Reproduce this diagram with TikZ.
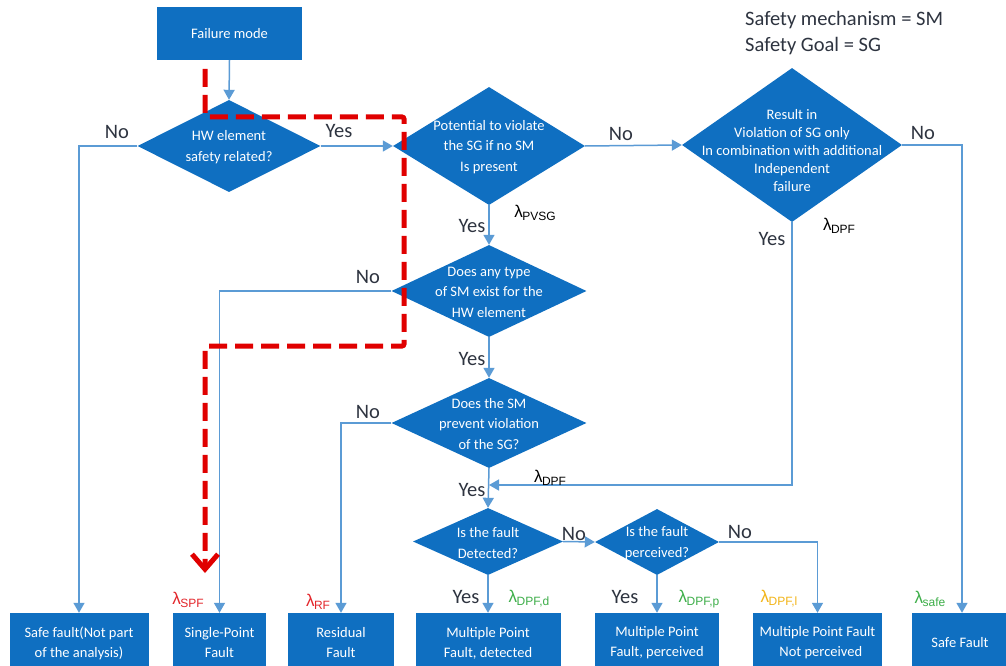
\documentclass[tikz,border=0pt]{standalone}
\usepackage{fontspec}
\setmainfont{Carlito}
\newfontfamily\lamfont{Liberation Sans}
\usetikzlibrary{shapes.geometric,arrows.meta,calc}
\definecolor{boxblue}{HTML}{0F6FC1}
\definecolor{lineblue}{HTML}{5B9BD5}
\definecolor{lred}{HTML}{E3262B}
\definecolor{lgreen}{HTML}{3DAE49}
\definecolor{lorange}{HTML}{F2B417}
\definecolor{dashred}{HTML}{E00000}
\definecolor{lbl}{HTML}{2E3440}
\newcommand{\lamlab}[1]{{\lamfont\fontsize{17}{17}\selectfont λ\kern-0.5pt\raisebox{-0.35ex}{\fontsize{12}{12}\selectfont #1}}}
\begin{document}
\begin{tikzpicture}[x=1pt,y=-1pt,
  box/.style={rectangle, fill=boxblue, text=white, align=center, inner sep=0pt,
    font=\fontsize{14.5}{20}\selectfont},
  diam/.style={diamond, fill=boxblue, inner sep=0pt},
  dtext/.style={text=white, align=center, inner sep=0pt, font=\fontsize{14.5}{20.5}\selectfont},
  conn/.style={draw=lineblue, line width=1.5pt},
  arr/.style={conn, -{Triangle[width=11pt,length=10pt]}},
  lab/.style={text=lbl, inner sep=0pt, font=\fontsize{20.5}{20.5}\selectfont},
  lam/.style={inner sep=0pt},
  reddash/.style={draw=dashred, line width=5pt, dash pattern=on 18pt off 8pt, rounded corners=2pt,
    -{Straight Barb[length=15pt,width=26pt,line width=5pt]}}
]
\useasboundingbox (0,0) rectangle (1006,666);
\fill[white] (0,0) rectangle (1006,666);

% start box
\node[box, minimum width=145pt, minimum height=53pt] (fm) at (229.5,33.5) {Failure mode};

% diamonds
\node[diam, minimum width=183pt, minimum height=92pt] (d1) at (229,146) {};
\node[dtext] at (229,147) {HW element\\safety related?};

\node[diam, minimum width=192pt, minimum height=118pt] (d2) at (489,146) {};
\node[dtext] at (489,147) {Potential to violate\\the SG if no SM\\Is present};

\node[diam, minimum width=220pt, minimum height=154pt] (d3) at (792,145) {};
\node[dtext, font=\fontsize{14.5}{18}\selectfont] at (792,151) {Result in\\Violation of SG only\\In combination with additional\\Independent\\failure};

\node[diam, minimum width=195pt, minimum height=92pt] (d4) at (489,291) {};
\node[dtext] at (489,292) {Does any type\\of SM exist for the\\HW element};

\node[diam, minimum width=195pt, minimum height=90pt] (d5) at (489,423) {};
\node[dtext] at (489,424) {Does the SM\\prevent violation\\of the SG?};

\node[diam, minimum width=150pt, minimum height=67pt] (d6) at (488,541.5) {};
\node[dtext] at (488,543) {Is the fault\\Detected?};

\node[diam, minimum width=124pt, minimum height=66pt] (d7) at (657,542) {};
\node[dtext] at (657,543) {Is the fault\\perceived?};

% bottom boxes
\node[box, minimum width=139pt, minimum height=60pt] (b1) at (79,643) {Safe fault(Not part\\of the analysis)};
\node[box, minimum width=93pt, minimum height=60pt] (b2) at (219.5,643) {Single-Point\\Fault};
\node[box, minimum width=106pt, minimum height=60pt] (b3) at (341,643) {Residual\\Fault};
\node[box, minimum width=145pt, minimum height=60pt] (b4) at (488,643) {Multiple Point\\Fault, detected};
\node[box, minimum width=124pt, minimum height=60pt] (b5) at (657,643) {Multiple Point\\Fault, perceived};
\node[box, minimum width=129pt, minimum height=60pt] (b6) at (817.5,643) {Multiple Point Fault\\\ \ Not perceived};
\node[box, minimum width=100pt, minimum height=60pt] (b7) at (962,643) {\kern-4pt Safe Fault};

% connectors
\draw[arr] (fm.south) -- (d1.north);
\draw[arr] (d1.west) -| (b1.north);
\draw[arr] (d1.east) -- (d2.west);
\draw[arr] (d2.east) -- (d3.west);
\draw[arr] (d3.east) -| (b7.north);
\draw[arr] (d2.south) -- (d4.north);
\draw[arr] (d4.west) -| (b2.north);
\draw[arr] (d4.south) -- (d5.north);
\draw[arr] (d5.west) -| (b3.north);
\draw[arr] (d5.south) -- (d6.north);
\coordinate (j) at (489,485);
\draw[arr] (d3.south) |- (j);
\draw[arr] (d6.south) -- (d6.south |- b4.north);
\draw[arr] (d6.east) -- (d7.west);
\draw[arr] (d7.south) -- (b5.north);
\draw[arr] (d7.east) -| (b6.north);

% red dashed path
\coordinate (r0) at (205,69);
\coordinate (r1) at (205,117);
\coordinate (r2) at (404,117);
\coordinate (r3) at (404,346);
\coordinate (r4) at (205,346);
\coordinate (r5) at (205,573);
\draw[reddash] (r0) -- (r1) -- (r2) -- (r3) -- (r4) -- (r5);

% labels
\node[lab] (l1) at (117,132) {No};
\node[lab] (l2) at (339,131) {Yes};
\node[lab] (l3) at (621,134) {No};
\node[lab] (l4) at (923,133) {No};
\node[lab] (l5) at (772,239) {Yes};
\node[lab] (l6) at (472,226) {Yes};
\node[lab] (l7) at (368,277) {No};
\node[lab] (l8) at (472,359) {Yes};
\node[lab] (l9) at (368,412) {No};
\node[lab] (l10) at (472,490) {Yes};
\node[lab] (l11) at (574,534) {No};
\node[lab] (l12) at (740,532) {No};
\node[lab] (l13) at (466,597) {Yes};
\node[lab] (l14) at (625,597) {Yes};

\node[lam, text=black] (m1) at (535,213) {\lamlab{PVSG}};
\node[lam, text=black] (m2) at (839,226) {\lamlab{DPF}};
\node[lam, text=black] (m3) at (550,478) {\lamlab{DPF}};
\node[lam, text=lred] (m4) at (188,600) {\lamlab{SPF}};
\node[lam, text=lred] (m5) at (318,602) {\lamlab{RF}};
\node[lam, text=lgreen] (m6) at (529,599) {\lamlab{DPF,d}};
\node[lam, text=lgreen] (m7) at (699,599) {\lamlab{DPF,p}};
\node[lam, text=lorange] (m8) at (779,599) {\lamlab{DPF,l}};
\node[lam, text=lgreen] (m9) at (930,599) {\lamlab{safe}};

% legend
\node[lab, anchor=west] (g1) at (745,20) {Safety mechanism = SM};
\node[lab, anchor=west] (g2) at (745,46) {Safety Goal = SG};
\end{tikzpicture}
\end{document}
